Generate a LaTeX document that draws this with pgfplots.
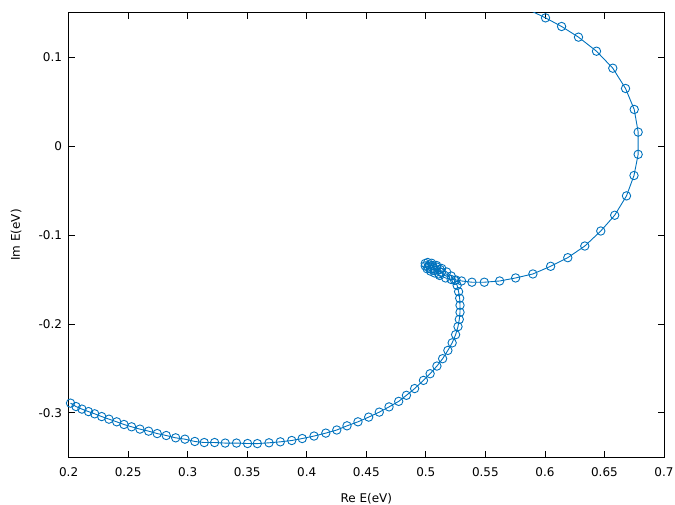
\documentclass[border=0pt]{standalone}
\usepackage{pgfplots}
\pgfplotsset{compat=1.18}
\usepackage{fontspec}
\setmainfont{DejaVu Sans}
\definecolor{gpblue}{RGB}{0,114,189}
\begin{document}
\begin{tikzpicture}
\begin{axis}[
  name=ax,
  scale only axis,
  width=595.4pt, height=444.6pt,
  xmin=0.2, xmax=0.7, ymin=-0.35, ymax=0.15,
  xtick={0.2,0.25,0.3,0.35,0.4,0.45,0.5,0.55,0.6,0.65,0.7},
  xticklabels={0.2,0.25,0.3,0.35,0.4,0.45,0.5,0.55,0.6,0.65,0.7},
  ytick={-0.3,-0.2,-0.1,0,0.1},
  yticklabels={-0.3,-0.2,-0.1,0,0.1},
  tick align=inside,
  major tick length=6pt,
  tick style={black, line width=0.8pt},
  axis line style={black, line width=0.9pt},
  tick label style={font=\fontsize{12}{14}\selectfont},
  xticklabel style={yshift=-7pt},
  yticklabel style={xshift=-3pt},
  label style={font=\fontsize{12}{14}\selectfont},
  xlabel={Re E(eV)},
  ylabel={Im E(eV)},
  xlabel style={at={(axis description cs:0.5,-0.0925)}, anchor=center},
  ylabel style={at={(axis description cs:-0.088,0.5)}, anchor=center},
  clip=true,
]
\addplot[color=gpblue, line width=0.9pt, mark=o, mark size=4.2pt, mark options={line width=0.9pt}] coordinates {
(0.2016,-0.2891) (0.2062,-0.2929) (0.2112,-0.2958) (0.2167,-0.2986) (0.2219,-0.3011)
(0.2278,-0.3042) (0.2339,-0.3071) (0.2404,-0.3101) (0.2465,-0.3131) (0.2529,-0.3157)
(0.2599,-0.3183) (0.2672,-0.3206) (0.2744,-0.3233) (0.2820,-0.3255) (0.2899,-0.3281)
(0.2977,-0.3296) (0.3060,-0.3322) (0.3139,-0.3334) (0.3226,-0.3334) (0.3315,-0.3340)
(0.3410,-0.3340) (0.3503,-0.3345) (0.3585,-0.3346) (0.3683,-0.3337) (0.3778,-0.3326)
(0.3874,-0.3311) (0.3962,-0.3289) (0.4061,-0.3261) (0.4160,-0.3228) (0.4252,-0.3193)
(0.4338,-0.3146) (0.4430,-0.3101) (0.4520,-0.3048) (0.4609,-0.2992) (0.4691,-0.2933)
(0.4772,-0.2871) (0.4837,-0.2803) (0.4906,-0.2727) (0.4980,-0.2635) (0.5036,-0.2560)
(0.5093,-0.2474) (0.5141,-0.2391) (0.5185,-0.2298) (0.5221,-0.2213) (0.5250,-0.2121)
(0.5270,-0.2030) (0.5281,-0.1949) (0.5287,-0.1869) (0.5287,-0.1790) (0.5284,-0.1711)
(0.5275,-0.1637) (0.5263,-0.1567)
(0.5242,-0.1511) (0.5213,-0.1461) (0.5175,-0.1416) (0.5133,-0.1376) (0.5091,-0.1343)
(0.5049,-0.1318) (0.5016,-0.1309) (0.4995,-0.1320) (0.4995,-0.1348) (0.5011,-0.1380)
(0.5041,-0.1407) (0.5074,-0.1427) (0.5108,-0.1438) (0.5129,-0.1421) (0.5120,-0.1388)
(0.5091,-0.1360) (0.5058,-0.1343) (0.5028,-0.1337) (0.5020,-0.1360) (0.5041,-0.1382)
(0.5074,-0.1399) (0.5116,-0.1455) (0.5166,-0.1483) (0.5213,-0.1500) (0.5253,-0.1506)
(0.5300,-0.1517) (0.5387,-0.1531) (0.5491,-0.1531) (0.5620,-0.1517) (0.5754,-0.1483)
(0.5899,-0.1438) (0.6048,-0.1352) (0.6192,-0.1255) (0.6335,-0.1124) (0.6469,-0.0955)
(0.6586,-0.0778) (0.6685,-0.0560) (0.6748,-0.0331) (0.6783,-0.0093) (0.6783,0.0157)
(0.6750,0.0412) (0.6677,0.0648) (0.6570,0.0876) (0.6433,0.1067) (0.6282,0.1225)
(0.6140,0.1345) (0.6005,0.1442) (0.5854,0.1539)
};
\end{axis}
\pgfresetboundingbox
\path[use as bounding box] ([shift={(-68.6pt,-46.7pt)}]ax.south west) rectangle ([shift={(606.4pt,457.3pt)}]ax.south west);
\end{tikzpicture}
\end{document}
